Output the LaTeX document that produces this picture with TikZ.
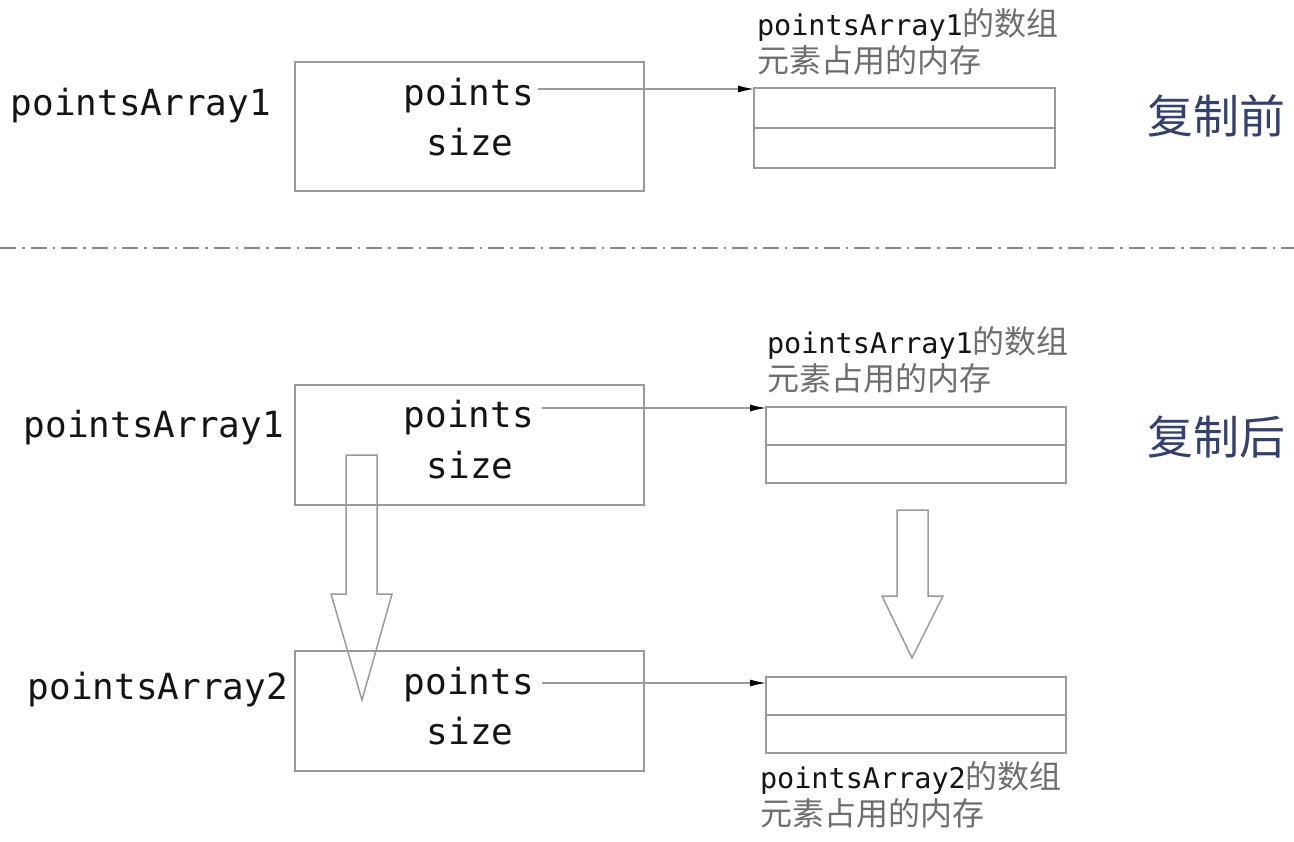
\documentclass[tikz,border=0pt]{standalone}
\usepackage{fontspec}
\setmainfont{DejaVu Sans Mono}
\newfontfamily\cjk{Noto Sans CJK SC}
\usetikzlibrary{arrows.meta}
\definecolor{boxgray}{HTML}{9A9A9A}
\definecolor{sepgray}{HTML}{8A8A8A}
\definecolor{txt}{HTML}{141414}
\definecolor{cjkgray}{HTML}{6E6E6E}
\definecolor{navy}{HTML}{34416F}
\newcommand{\cjkpart}[1]{{\cjk\fontsize{32}{37}\selectfont\color{cjkgray}#1}}
\begin{document}
\begin{tikzpicture}[x=1pt,y=-1pt,
  every node/.style={inner sep=0pt,outer sep=0pt,text=txt},
  structbox/.style={draw=boxgray,line width=1.5pt,minimum width=349pt,minimum height=120pt,anchor=north west},
  arrbox/.style={draw=boxgray,line width=1.5pt,minimum width=300pt,minimum height=76pt,anchor=north west},
  divider/.style={draw=boxgray,line width=1.5pt},
  field/.style={font=\fontsize{36}{40}\selectfont},
  varname/.style={font=\fontsize{36}{40}\selectfont,anchor=east},
  memtext/.style={align=left,anchor=north west,font=\fontsize{28.5}{37}\selectfont},
  phase/.style={font=\cjk\fontsize{46}{50}\selectfont,text=navy},
  ptr/.style={draw=boxgray,line width=1.3pt,-{Latex[length=16pt,width=7pt,color=black]}},
  blockarrow/.style={draw=boxgray,line width=1.5pt,line join=miter},
  sep/.style={draw=sepgray,line width=2pt,dash pattern=on 16pt off 6pt on 2.5pt off 6pt}]
\useasboundingbox (0,0) rectangle (1294,842);

% ---------- before copy ----------
\node[varname] (lA1) at (271,106) {pointsArray1};
\node[structbox,minimum height=129pt] (bA1) at (295,62) {};
\node[field] (pA1) at (469,96) {points};
\node[field] (sA1) at (470,142) {size};
\node[arrbox,minimum width=301pt,minimum height=80pt] (mA) at (754,88) {};
\draw[divider] (mA.west) -- (mA.east);
\node[memtext] (tA) at (757,8) {pointsArray1\cjkpart{的数组}\\\cjkpart{元素占用的内存}};
\node[phase] (ph1) at (1216,116) {复制前};
\coordinate (sA) at (538,89);
\draw[ptr] (sA) -- (sA -| mA.west);

% ---------- separator ----------
\coordinate (sepL) at (0,248);
\coordinate (sepR) at (1294,248);
\draw[sep] (sepL) -- (sepR);

% ---------- after copy ----------
\node[varname] (lB1) at (284,428) {pointsArray1};
\node[structbox] (bB1) at (295,385) {};
\node[field] (pB1) at (469,418) {points};
\node[field] (sB1) at (470,465) {size};
\node[arrbox] (mB) at (766,407) {};
\draw[divider] (mB.west) -- (mB.east);
\node[memtext] (tB) at (767,326) {pointsArray1\cjkpart{的数组}\\\cjkpart{元素占用的内存}};
\node[phase] (ph2) at (1216,437) {复制后};
\coordinate (sB) at (542,408);
\draw[ptr] (sB) -- (sB -| mB.west);

\node[varname] (lB2) at (288,690) {pointsArray2};
\node[structbox] (bB2) at (295,651) {};
\node[field] (pB2) at (469,685) {points};
\node[field] (sB2) at (470,731) {size};
\node[arrbox] (mC) at (766,677) {};
\draw[divider] (mC.west) -- (mC.east);
\node[memtext] (tC) at (760,761) {pointsArray2\cjkpart{的数组}\\\cjkpart{元素占用的内存}};
\coordinate (sC) at (542,683);
\draw[ptr] (sC) -- (sC -| mC.west);

% hollow block arrows
\draw[blockarrow] (346,455) -- (377,455) -- (377,594) -- (392,594) -- (362,700) -- (331,594) -- (346,594) -- cycle;
\draw[blockarrow] (897,510) -- (928,510) -- (928,596) -- (943,596) -- (912,658) -- (882,596) -- (897,596) -- cycle;
\end{tikzpicture}
\end{document}
